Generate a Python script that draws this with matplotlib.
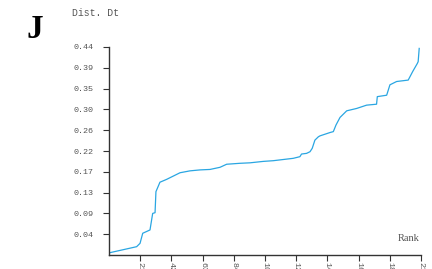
import matplotlib
matplotlib.use("Agg")
import matplotlib.pyplot as plt

rank = [0.7, 18.6, 20.9, 22.7, 27.6, 29.4, 31.0, 31.6, 34.3, 38.8, 43.3, 47.8,
        54.5, 61.2, 68.0, 74.7, 79.2, 88.2, 94.9, 103.8, 110.6, 117.3, 124.0,
        128.5, 129.6, 133.0, 135.3, 136.8, 138.6, 140.9, 142.0, 148.7, 151.0,
        152.8, 155.5, 160.0, 166.7, 173.4, 180.1, 180.6, 186.9, 189.1, 193.6,
        201.4, 204.4, 207.5, 208.1, 208.8]
dist = [0.005, 0.0176, 0.0247, 0.046, 0.053, 0.088, 0.0895, 0.134, 0.154,
        0.160, 0.167, 0.174, 0.178, 0.180, 0.181, 0.1855, 0.192, 0.194, 0.195,
        0.198, 0.1995, 0.202, 0.2045, 0.208, 0.2136, 0.215, 0.2185, 0.2257,
        0.243, 0.250, 0.252, 0.259, 0.261, 0.275, 0.291, 0.305, 0.310, 0.317,
        0.319, 0.335, 0.338, 0.360, 0.367, 0.370, 0.388, 0.405, 0.409, 0.437]

y_labels = ["0.04", "0.09", "0.13", "0.17", "0.22", "0.26", "0.30", "0.35", "0.39", "0.44"]
x_labels = ["21", "42", "63", "84", "105", "126", "147", "168", "189", "210"]

fig = plt.figure(figsize=(4.32, 2.69), dpi=100)
ax = fig.add_axes([0.2523, 0.052, 0.7222, 0.7733])
ax.plot(rank, dist, color="#2aa6e2", lw=0.9)
ax.set_xlim(0, 210)
ax.set_ylim(0, 0.44)
ax.set_yticks([0.044 * (i + 1) for i in range(10)])
ax.set_yticklabels(y_labels, family="Liberation Mono", fontsize=6, color="#555555")
ax.set_xticks([21 * (i + 1) for i in range(10)])
ax.set_xticklabels(x_labels, family="Liberation Mono", fontsize=6, color="#555555",
                   rotation=-90, va="top", ha="center")
ax.tick_params(axis="y", direction="out", length=4, width=0.8, pad=7, colors="#333333",
               labelcolor="#555555")
ax.tick_params(axis="x", direction="out", length=4, width=0.8, pad=1, colors="#333333",
               labelcolor="#555555")
for s in ["top", "right"]:
    ax.spines[s].set_visible(False)
for s in ["left", "bottom"]:
    ax.spines[s].set_linewidth(1.0)
    ax.spines[s].set_color("#333333")

fig.text(72 / 432, 1 - 13 / 269, "Dist. Dt", family="Liberation Mono", fontsize=7,
         color="#555555", va="center", ha="left")
fig.text(35 / 432, 1 - 29 / 269, "J", family="Liberation Serif", fontweight="bold",
         fontsize=24, color="black", va="center", ha="center")
ax.text(0.995, 0.06, "Rank", transform=ax.transAxes, family="Liberation Serif",
        fontsize=7.5, color="#555555", ha="right", va="bottom")

fig.savefig("out.png", dpi=100)
